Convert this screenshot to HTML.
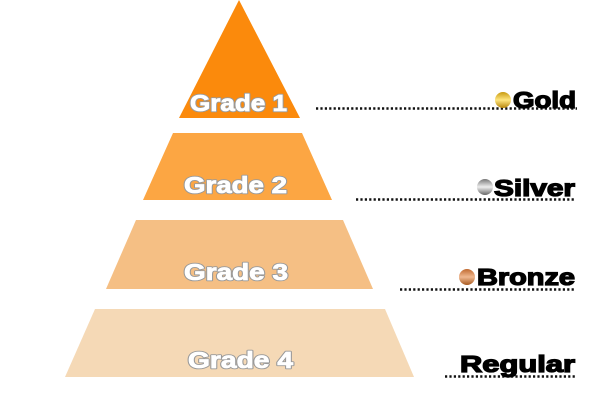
<!DOCTYPE html>
<html><head><meta charset="utf-8"><style>body{margin:0;background:#fff}svg{display:block}</style></head>
<body>
<svg width="600" height="400" viewBox="0 0 600 400" xmlns="http://www.w3.org/2000/svg">
<defs>
<linearGradient id="gold" x1="0" y1="0" x2="0" y2="1"><stop offset="0" stop-color="#c89a10"/><stop offset=".5" stop-color="#ffe680"/><stop offset="1" stop-color="#b8860b"/></linearGradient>
<linearGradient id="silver" x1="0" y1="0" x2="0" y2="1"><stop offset="0" stop-color="#777"/><stop offset=".5" stop-color="#eee"/><stop offset="1" stop-color="#666"/></linearGradient>
<linearGradient id="bronze" x1="0" y1="0" x2="0" y2="1"><stop offset="0" stop-color="#c06a30"/><stop offset=".5" stop-color="#f0b890"/><stop offset="1" stop-color="#a85a20"/></linearGradient>
</defs>
<polygon points="239,0 300,118 179,118" fill="#fb8a0c"/>
<polygon points="173,133 302,133 332,200 143,200" fill="#fca643"/>
<polygon points="136,220 343,220 373,289 106,289" fill="#f5bf84"/>
<polygon points="95,309 385,309 414,377 65,377" fill="#f5d9b6"/>
<g font-family="Liberation Sans, sans-serif" font-weight="bold" font-size="23" fill="#fff" stroke="#999" stroke-width="2.6" stroke-linejoin="round" paint-order="stroke">
<text x="190" y="111" textLength="97" lengthAdjust="spacingAndGlyphs">Grade 1</text>
<text x="184" y="193" textLength="103" lengthAdjust="spacingAndGlyphs">Grade 2</text>
<text x="184" y="280" textLength="104" lengthAdjust="spacingAndGlyphs">Grade 3</text>
<text x="188" y="368" textLength="105" lengthAdjust="spacingAndGlyphs">Grade 4</text>
</g>
<g font-family="Liberation Sans, sans-serif" font-weight="bold" font-size="23" fill="#fff">
<text x="190" y="111" textLength="97" lengthAdjust="spacingAndGlyphs" stroke="#fff" stroke-width="0.8">Grade 1</text>
<text x="184" y="193" textLength="103" lengthAdjust="spacingAndGlyphs" stroke="#fff" stroke-width="0.8">Grade 2</text>
<text x="184" y="280" textLength="104" lengthAdjust="spacingAndGlyphs" stroke="#fff" stroke-width="0.8">Grade 3</text>
<text x="188" y="368" textLength="105" lengthAdjust="spacingAndGlyphs" stroke="#fff" stroke-width="0.8">Grade 4</text>
</g>
<g stroke="#111" stroke-width="2.5" stroke-dasharray="2.2,2.2">
<line x1="316" y1="108.5" x2="577" y2="108.5"/>
<line x1="356" y1="199.5" x2="575" y2="199.5"/>
<line x1="400" y1="289.5" x2="575" y2="289.5"/>
<line x1="445" y1="376.5" x2="575" y2="376.5"/>
</g>
<circle cx="503" cy="100" r="8" fill="url(#gold)"/>
<circle cx="485" cy="187" r="8" fill="url(#silver)"/>
<circle cx="467" cy="277" r="8" fill="url(#bronze)"/>
<g font-family="Liberation Sans, sans-serif" font-weight="bold" font-size="23" fill="#000" stroke="#000" stroke-width="1.3">
<text x="513" y="108" textLength="63" lengthAdjust="spacingAndGlyphs">Gold</text>
<text x="494" y="196" textLength="81" lengthAdjust="spacingAndGlyphs">Silver</text>
<text x="477" y="285" textLength="98" lengthAdjust="spacingAndGlyphs">Bronze</text>
<text x="460" y="372" textLength="115" lengthAdjust="spacingAndGlyphs">Regular</text>
</g>
</svg>
</body></html>
